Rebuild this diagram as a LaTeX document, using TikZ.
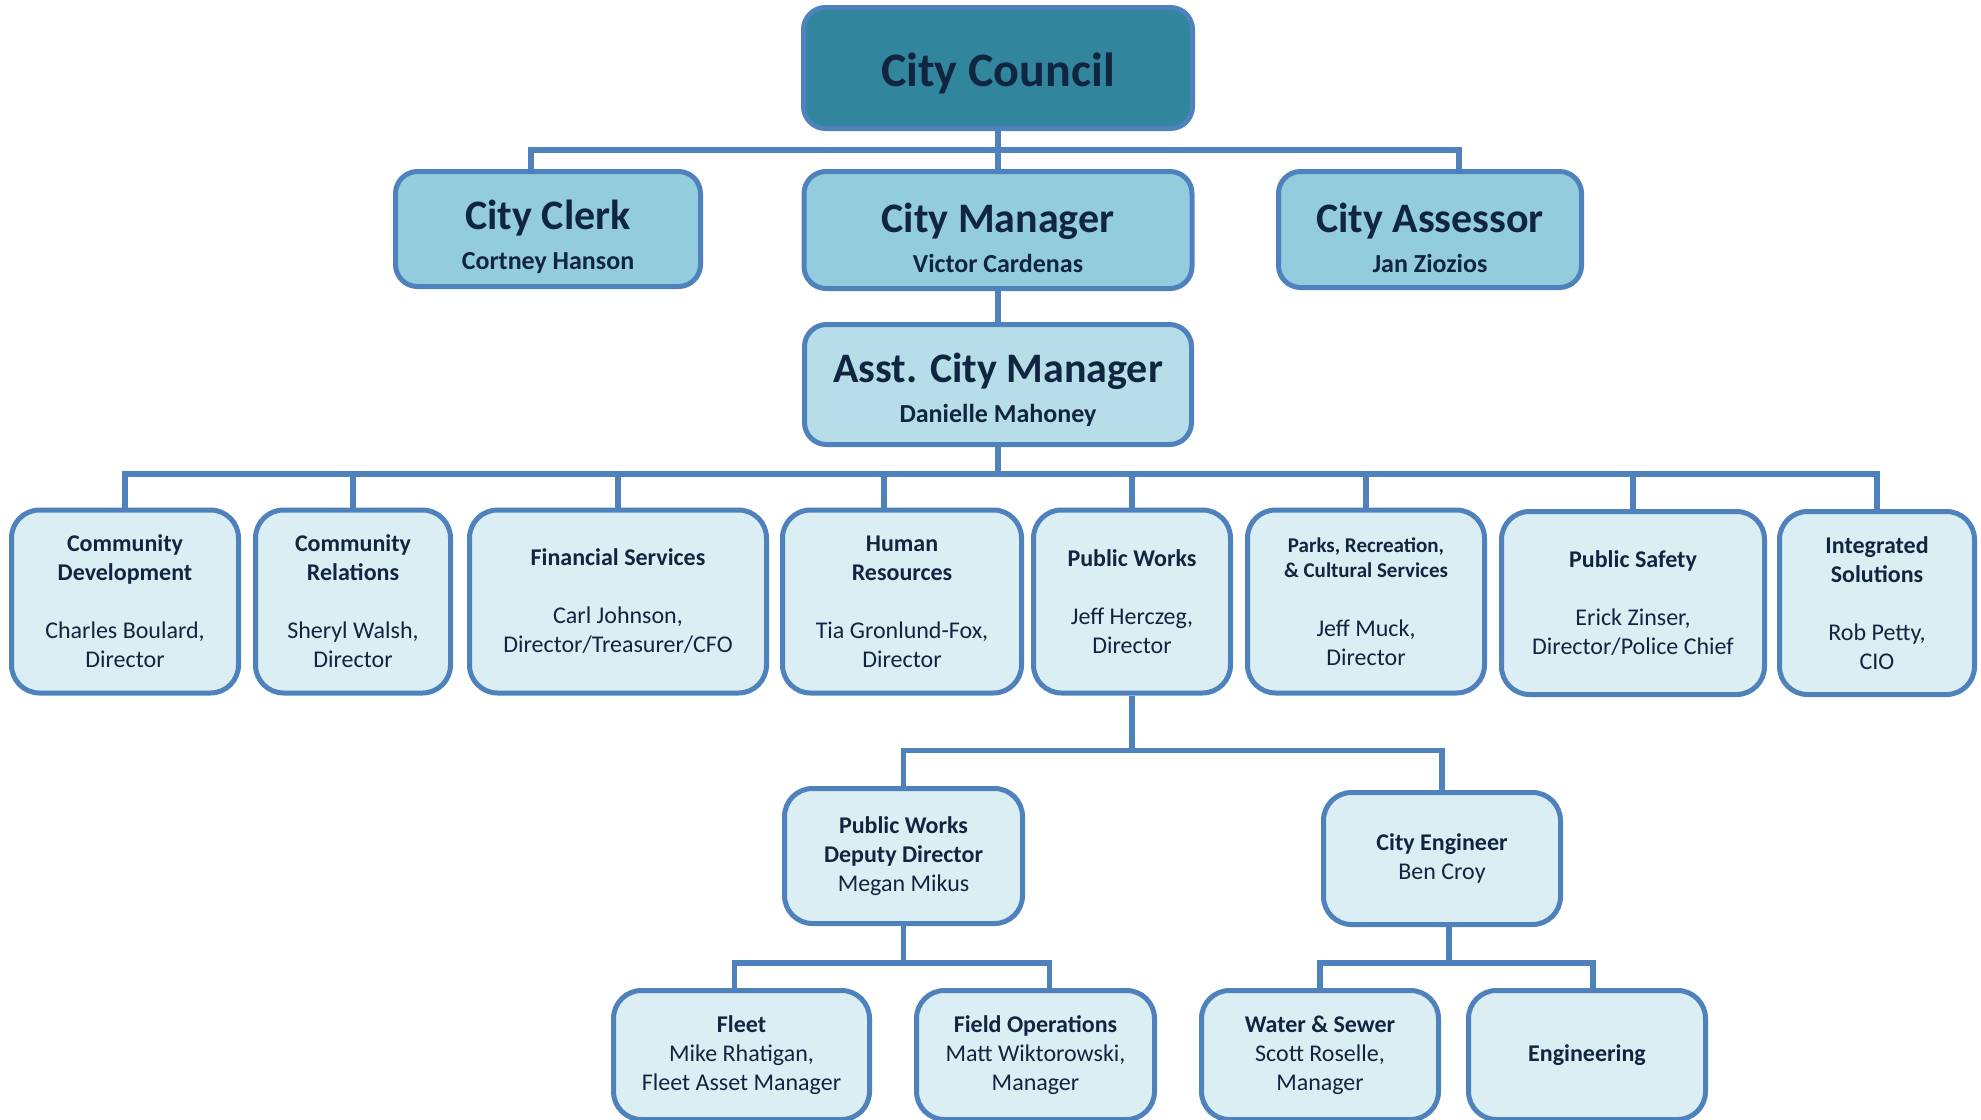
\documentclass[tikz,border=0pt]{standalone}
\usepackage{fontspec}
\setmainfont{Carlito}
\definecolor{edgeblue}{RGB}{79,129,189}
\definecolor{councilfill}{RGB}{49,133,156}
\definecolor{deptfill}{RGB}{147,205,221}
\definecolor{asstfill}{RGB}{183,222,232}
\definecolor{unitfill}{RGB}{219,238,244}
\definecolor{inktext}{RGB}{16,37,63}

\begin{document}
\begin{tikzpicture}[x=1pt,y=-1pt,
  boxsize/.style 2 args={minimum width=#1pt,minimum height=#2pt},
  orgbox/.style={draw=edgeblue,line width=5pt,rounded corners=22pt,text=inktext,align=center,inner sep=0pt},
  topbox/.style={orgbox,fill=deptfill,font=\fontsize{26}{40}\selectfont\bfseries},
  unitbox/.style={orgbox,fill=unitfill,rounded corners=28pt,font=\fontsize{24}{29}\selectfont},
  link/.style={draw=edgeblue,line width=5.5pt}]
\path[use as bounding box,clip] (0,0) rectangle (1981,1119);

\node[orgbox,fill=councilfill,boxsize={389}{121},font=\fontsize{48}{58}\selectfont\bfseries] (council) at (998,68) {\rule{0pt}{44pt}City Council};
\node[topbox,boxsize={305}{115}] (clerk) at (548,229) {{\fontsize{42}{40}\selectfont\rule{0pt}{46pt}City Clerk}\\Cortney Hanson};
\node[topbox,boxsize={388}{117}] (manager) at (998,230) {{\fontsize{42}{40}\selectfont\rule{0pt}{46pt}City Manager}\\Victor Cardenas};
\node[topbox,boxsize={303}{116}] (assessor) at (1430,229.5) {{\fontsize{42}{40}\selectfont\rule{0pt}{46pt}City Assessor}\\Jan Ziozios};
\node[topbox,fill=asstfill,boxsize={387}{120}] (acm) at (998,384.5) {{\fontsize{42}{40}\selectfont\rule{0pt}{40pt}Asst. City Manager}\\Danielle Mahoney};

\node[unitbox,boxsize={227}{183}] (cd) at (125,601.5) {\textbf{Community}\\\textbf{Development}\\[29pt]Charles Boulard,\\Director};
\node[unitbox,boxsize={195}{183}] (cr) at (353,601.5) {\textbf{Community}\\\textbf{Relations}\\[29pt]Sheryl Walsh,\\Director};
\node[unitbox,boxsize={297}{183}] (fs) at (618,601.5) {\textbf{Financial Services}\\[29pt]Carl Johnson,\\Director/Treasurer/CFO};
\node[unitbox,boxsize={239}{183}] (hr) at (902,601.5) {\textbf{Human}\\\textbf{Resources}\\[29pt]Tia Gronlund-Fox,\\Director};
\node[unitbox,boxsize={197}{183}] (pw) at (1132,601.5) {\textbf{Public Works}\\[29pt]Jeff Herczeg,\\Director};
\node[unitbox,boxsize={237}{183}] (prc) at (1366,601.5) {{\fontsize{21}{25}\selectfont\bfseries Parks, Recreation,}\\[-4pt]{\fontsize{21}{25}\selectfont\bfseries \& Cultural Services}\\[30pt]Jeff Muck,\\Director};
\node[unitbox,boxsize={263}{183}] (ps) at (1633,603) {\textbf{Public Safety}\\[29pt]Erick Zinser,\\Director/Police Chief};
\node[unitbox,boxsize={195}{183}] (isol) at (1877,603) {\textbf{Integrated}\\\textbf{Solutions}\\[29pt]Rob Petty,\\CIO};

\node[unitbox,boxsize={238}{135}] (pwdd) at (903.5,856) {\textbf{Public Works}\\\textbf{Deputy Director}\\Megan Mikus};
\node[unitbox,boxsize={237}{132}] (ce) at (1442,858.5) {\textbf{City Engineer}\\Ben Croy};

\node[unitbox,boxsize={256}{129}] (fleet) at (741.5,1055) {\textbf{Fleet}\\Mike Rhatigan,\\Fleet Asset Manager};
\node[unitbox,boxsize={238}{129}] (fops) at (1035.5,1055) {\textbf{Field Operations}\\Matt Wiktorowski,\\Manager};
\node[unitbox,boxsize={237}{129}] (ws) at (1320,1055) {\textbf{Water \& Sewer}\\Scott Roselle,\\Manager};
\node[unitbox,boxsize={237}{129}] (eng) at (1587,1055) {\textbf{Engineering}};

\draw[link] (council.south) -- ++(0,19) coordinate (topbar);
\draw[link] ([xshift=-17pt]clerk.north) |- (topbar) -| ([xshift=29pt]assessor.north);
\draw[link] (topbar) -- (manager.north);
\draw[link] (manager.south) -- (acm.north);
\draw[link] (acm.south) -- ++(0,27) coordinate (unitbar);
\draw[link] (cd.north) |- (unitbar) -| (isol.north);
\foreach \u in {cr,fs,pw,prc,ps}
  \draw[link] (\u.north) -- (\u.north |- unitbar);
\draw[link] ([xshift=-18pt]hr.north) -- ([xshift=-18pt]hr.north |- unitbar);
\draw[link] (pw.south) -- ++(0,55) coordinate (pwbar);
\draw[link] (pwdd.north) |- (pwbar) -| (ce.north);
\draw[link] (pwdd.south) -- ++(0,37) coordinate (pwddbar);
\draw[link] ([xshift=-7pt]fleet.north) |- (pwddbar) -| ([xshift=14pt]fops.north);
\draw[link] ([xshift=7pt]ce.south) -- ++(0,36) coordinate (cebar);
\draw[link] (ws.north) |- (cebar) -| ([xshift=6pt]eng.north);
\end{tikzpicture}
\end{document}
